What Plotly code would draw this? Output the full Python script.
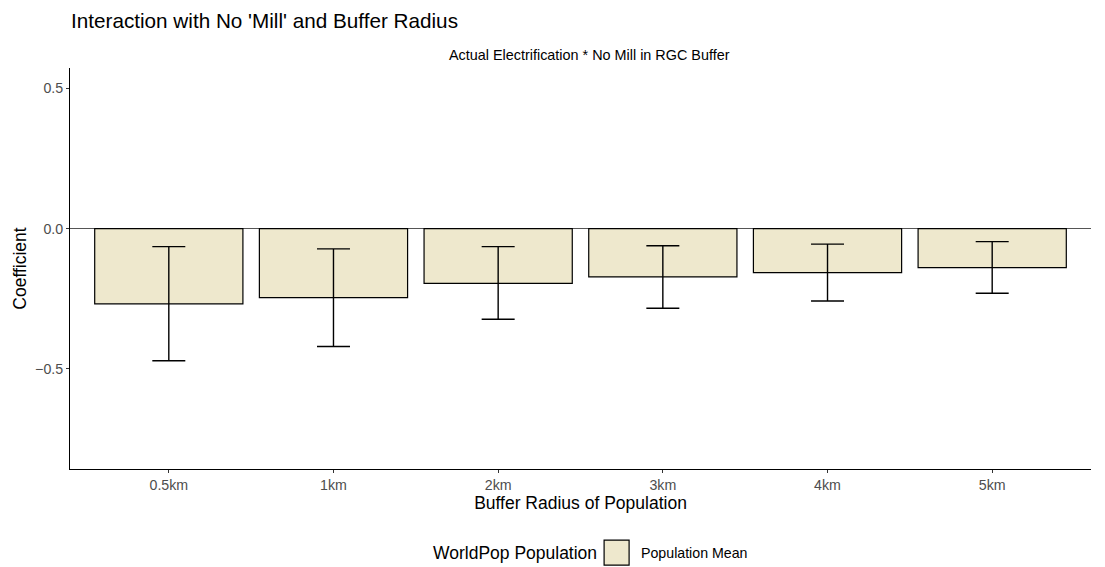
import plotly.graph_objects as go

# Regression coefficients by buffer radius, with confidence bounds
radius = ["0.5km", "1km", "2km", "3km", "4km", "5km"]
coef = [-0.268, -0.246, -0.195, -0.172, -0.157, -0.139]
upper = [-0.064, -0.072, -0.064, -0.061, -0.055, -0.046]
lower = [-0.471, -0.420, -0.323, -0.284, -0.258, -0.230]

legend_title = "WorldPop Population"
legend_label = "Population Mean"

FILL = "#EEE8CD"
FONT = "Liberation Sans, Arial, Helvetica, sans-serif"

W, H = 1105, 567
L, R, T, B = 70.4, 13.6, 68.3, 97.7
PW, PH = W - L - R, H - T - B


def px_x(p):
    return (p - L) / PW


def px_y(p):
    return (H - B - p) / PH


err_plus = [u - c for u, c in zip(upper, coef)]
err_minus = [c - l for c, l in zip(coef, lower)]

fig = go.Figure()
fig.add_trace(go.Bar(
    x=radius, y=coef, width=0.9, name=legend_label,
    marker=dict(color=FILL, line=dict(color="black", width=1.2)),
    error_y=dict(type="data", symmetric=False, array=err_plus, arrayminus=err_minus,
                 color="black", thickness=1.4, width=16.5),
    showlegend=False,
))

fig.update_layout(
    width=W, height=H,
    margin=dict(l=L, r=R, t=T, b=B),
    plot_bgcolor="white", paper_bgcolor="white",
    font=dict(family=FONT, color="black"),
    title=dict(text="Interaction with No 'Mill' and Buffer Radius",
               x=71 / W, xanchor="left", y=1 - 21 / H, yanchor="middle",
               font=dict(size=20.7, color="black")),
    xaxis=dict(
        type="category", categoryorder="array", categoryarray=radius,
        range=[-0.6, 5.6], showline=True, linecolor="black", linewidth=1.1,
        ticks="outside", ticklen=3, tickcolor="#333333", tickwidth=1,
        tickfont=dict(size=14.2, color="#4D4D4D"), showgrid=False,
        title=dict(text="Buffer Radius of Population", font=dict(size=17.5, color="black"), standoff=4),
    ),
    yaxis=dict(
        range=[-0.857, 0.573], tickvals=[-0.5, 0, 0.5], tickformat=".1f",
        showline=True, linecolor="black", linewidth=1.1,
        ticks="outside", ticklen=3, tickcolor="#333333", tickwidth=1,
        tickfont=dict(size=14.2, color="#4D4D4D"), showgrid=False,
        zeroline=True, zerolinecolor="#555555", zerolinewidth=0.8,
        title=dict(text="Coefficient", font=dict(size=17.5, color="black"), standoff=3),
    ),
    showlegend=False,
    annotations=[
        dict(text="Actual Electrification * No Mill in RGC Buffer",
             xref="paper", yref="paper", x=px_x(589.5), y=px_y(55), xanchor="center", yanchor="middle",
             showarrow=False, font=dict(size=14.4, color="black")),
        dict(text=legend_title, xref="paper", yref="paper", x=px_x(431), y=px_y(553),
             xanchor="left", yanchor="middle", showarrow=False,
             font=dict(size=17.5, color="black")),
        dict(text=legend_label, xref="paper", yref="paper", x=px_x(639), y=px_y(553),
             xanchor="left", yanchor="middle", showarrow=False,
             font=dict(size=14.2, color="black")),
    ],
    shapes=[dict(type="rect", xref="paper", yref="paper",
                 x0=px_x(604.5), x1=px_x(629.5), y0=px_y(565.5), y1=px_y(540.5),
                 fillcolor=FILL, line=dict(color="black", width=1.2))],
)

fig.write_html("out.html")
